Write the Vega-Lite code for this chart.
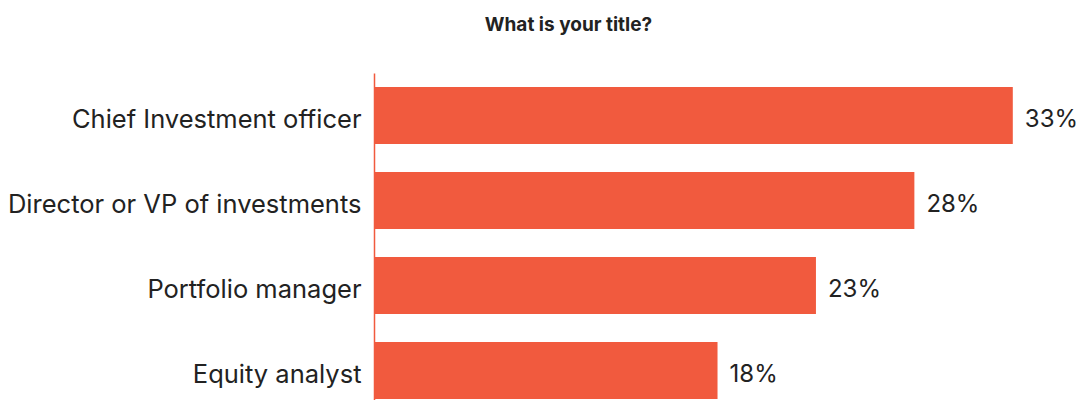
{
  "$schema": "https://vega.github.io/schema/vega-lite/v6.json",
  "autosize": {"type": "none"},
  "padding": {"left": 374, "top": 73, "right": 0, "bottom": 0},
  "width": 705,
  "height": 340,
  "background": "white",
  "title": {
    "text": "What is your title?",
    "font": "Inter",
    "fontSize": 19,
    "fontWeight": "bold",
    "color": "#222222",
    "anchor": "middle",
    "dx": -158,
    "offset": 38
  },
  "data": {
    "values": [
      {"title": "Chief Investment officer", "share": 0.331},
      {"title": "Director or VP of investments", "share": 0.280},
      {"title": "Portfolio manager", "share": 0.229},
      {"title": "Equity analyst", "share": 0.178}
    ]
  },
  "encoding": {
    "y": {
      "field": "title",
      "type": "nominal",
      "sort": null,
      "scale": {"paddingInner": 0.33, "paddingOuter": 0.165},
      "axis": {
        "title": null,
        "ticks": false,
        "labelFont": "Inter",
        "labelFontSize": 25.5,
        "labelColor": "#222222",
        "labelPadding": 13,
        "labelOffset": 4,
        "labelLimit": 400,
        "domainColor": "#F15A3E",
        "domainWidth": 1.5
      }
    },
    "x": {
      "field": "share",
      "type": "quantitative",
      "scale": {"domain": [0, 0.3653], "nice": false, "zero": true},
      "axis": null
    }
  },
  "layer": [
    {"mark": {"type": "bar", "color": "#F15A3E"}},
    {
      "mark": {"type": "text", "align": "left", "dx": 12, "dy": 4, "font": "Inter", "fontSize": 24, "color": "#222222", "baseline": "middle"},
      "encoding": {"text": {"field": "share", "type": "quantitative", "format": ".0%"}}
    }
  ],
  "config": {"view": {"stroke": null}}
}
